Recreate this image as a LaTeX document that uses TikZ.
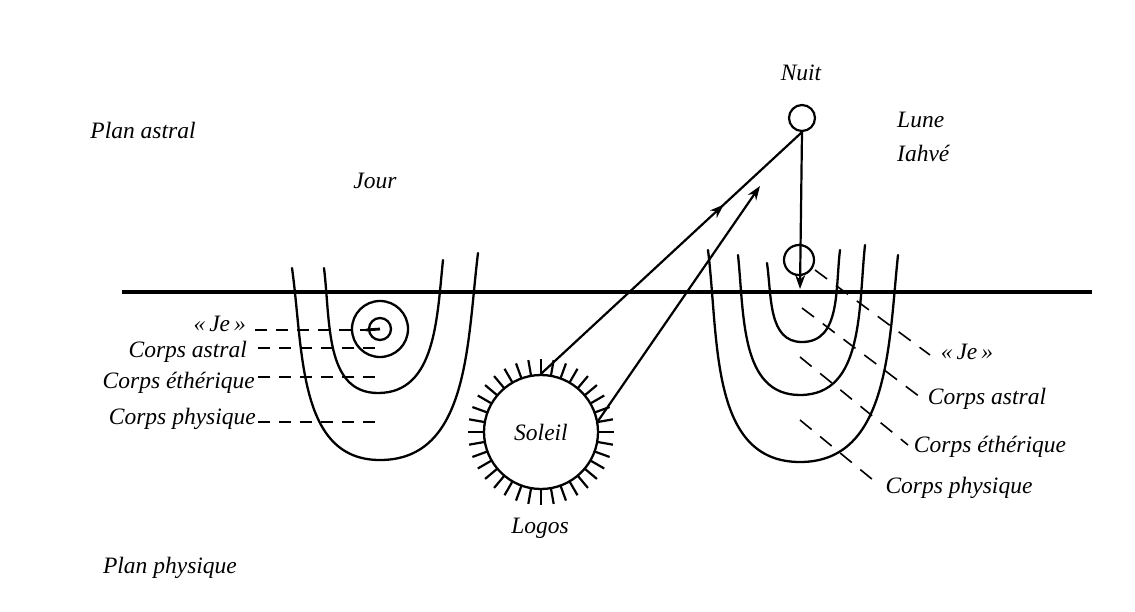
\documentclass[tikz,border=0pt]{standalone}
\usepackage{fontspec}
\setmainfont{Liberation Serif}
\usetikzlibrary{arrows.meta,decorations.markings}
\begin{document}
\begin{tikzpicture}[x=1pt,y=-1pt,
  lbl/.style={font=\fontsize{23.5}{25}\selectfont\itshape, inner sep=0pt},
  ushape/.style={line width=2.3pt, line cap=round},
  guide/.style={dash pattern=on 12pt off 9pt, line width=1.6pt},
  ray/.style={line width=2.2pt},
  conn/.style={line width=2.2pt},
  tipA/.style={-{Stealth[length=14pt,width=10pt]}}]
\useasboundingbox (0,0) rectangle (1135,611);

% horizon line
\coordinate (hl) at (122,292);
\coordinate (hr) at (1092,292);
\draw[line width=3.8pt] (hl) -- (hr);

% left bodies (Jour)
\draw[ushape] (292,268) to[out=-82,in=180,looseness=1.0] (380,460) to[out=0,in=-97,looseness=1.0] (478,253);
\draw[ushape] (324,268) to[out=-83,in=180,looseness=1.0] (378,393) to[out=0,in=-96,looseness=1.0] (443,260);
\node[circle,draw,line width=2.3pt,minimum size=56pt,inner sep=0pt] (astralL) at (380,329) {};
\node[circle,draw,line width=2.3pt,minimum size=22pt,inner sep=0pt] (jeL) at (380,329) {};

% right bodies (Nuit)
\draw[ushape] (708,250) to[out=-83,in=180,looseness=1.0] (800,462) to[out=0,in=-96,looseness=1.0] (898,255);
\draw[ushape] (738,255) to[out=-84,in=180,looseness=1.0] (800,395) to[out=0,in=-96,looseness=1.0] (865,245);
\draw[ushape] (767,263) to[out=-82,in=180,looseness=1.0] (802,342) to[out=0,in=-97,looseness=1.0] (840,250);

% Soleil
\node[circle,draw,line width=2.3pt,minimum size=114pt,inner sep=0pt,lbl] (sun) at (541,432) {Soleil};
\foreach \a in {0,10,...,350}
  \draw[ray] (sun.center) ++(\a:57pt) -- ++(\a:16pt);
\node[lbl] (logos) at (540,528) {Logos};

% Lune
\node[circle,draw,line width=2.2pt,minimum size=26pt,inner sep=0pt] (moon) at (802,118) {};
\node[circle,draw,line width=2.2pt,minimum size=30pt,inner sep=0pt] (moonI) at (799,260) {};
\coordinate (vtip) at (800,289);
\coordinate (a2end) at (760,186);

\draw[conn, postaction={decorate}, decoration={markings, mark=at position 0.7 with {\arrow{Stealth[length=14pt,width=10pt]}}}] (sun.north) -- (moon.south);
\draw[conn,tipA] (sun.11) -- (a2end);
\draw[conn,tipA] (moon.south) -- (vtip);

% left labels and guides
\node[lbl,anchor=east] (jeLt) at (246,324) {«\,Je\,»};
\node[lbl,anchor=east] (astLt) at (247,352) {Corps astral};
\node[lbl,anchor=east] (ethLt) at (255,383) {Corps éthérique};
\node[lbl,anchor=east] (phyLt) at (256,419) {Corps physique};
\coordinate (gJe) at (366,330);
\coordinate (sgJe) at (255,330);
\draw[guide] (sgJe) -- (gJe);
\draw[line width=2.8pt] (gJe) -- (jeL.center);
\coordinate (gAst) at (378,348);
\coordinate (sgAst) at (258,348);
\draw[guide] (sgAst) -- (gAst);
\coordinate (gEth) at (383,377);
\coordinate (sgEth) at (258,377);
\draw[guide] (sgEth) -- (gEth);
\coordinate (gPhy) at (378,422);
\coordinate (sgPhy) at (258,422);
\draw[guide] (sgPhy) -- (gPhy);

% right labels and guides
\node[lbl] (jeRt) at (967,352) {«\,Je\,»};
\node[lbl] (astRt) at (987,399) {Corps astral};
\node[lbl] (ethRt) at (990,447) {Corps éthérique};
\node[lbl] (phyRt) at (959,488) {Corps physique};
\coordinate (sJe) at (815,270);
\coordinate (eJe) at (930,355);
\draw[guide,dash pattern=on 15pt off 11pt] (sJe) -- (eJe);
\coordinate (sAst) at (802,308);
\coordinate (eAst) at (920,397);
\draw[guide,dash pattern=on 15pt off 11pt] (sAst) -- (eAst);
\coordinate (sEth) at (800,357);
\coordinate (eEth) at (908,445);
\draw[guide,dash pattern=on 15pt off 11pt] (sEth) -- (eEth);
\coordinate (sPhy) at (800,420);
\coordinate (ePhy) at (873,480);
\draw[guide,dash pattern=on 15pt off 11pt] (sPhy) -- (ePhy);

% other labels
\node[lbl] (plastral) at (143,130) {Plan astral};
\node[lbl] (jour) at (375,181) {Jour};
\node[lbl] (nuit) at (801,73) {Nuit};
\node[lbl,anchor=west] (lune) at (897,120) {Lune};
\node[lbl,anchor=west] (iahve) at (897,153) {Iahvé};
\node[lbl] (plphys) at (170,568) {Plan physique};
\end{tikzpicture}
\end{document}
